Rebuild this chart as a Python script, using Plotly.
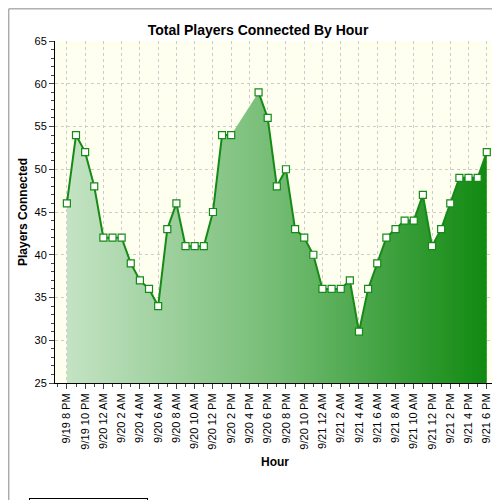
import plotly.graph_objects as go

hours = list(range(47))
players = [46, 54, 52, 48, 42, 42, 42, 39, 37, 36, 34, 43, 46, 41, 41, 41, 45, 54, 54, None, None, 59, 56, 48, 50,
           43, 42, 40, 36, 36, 36, 37, 31, 36, 39, 42, 43, 44, 44, 47, 41, 43, 46, 49, 49, 49, 52]
tick_labels = ["9/19 8 PM", "9/19 10 PM", "9/20 12 AM", "9/20 2 AM", "9/20 4 AM", "9/20 6 AM", "9/20 8 AM",
               "9/20 10 AM", "9/20 12 PM", "9/20 2 PM", "9/20 4 PM", "9/20 6 PM", "9/20 8 PM", "9/20 10 PM",
               "9/21 12 AM", "9/21 2 AM", "9/21 4 AM", "9/21 6 AM", "9/21 8 AM", "9/21 10 AM", "9/21 12 PM",
               "9/21 2 PM", "9/21 4 PM", "9/21 6 PM"]
tick_hours = list(range(0, 47, 2))

fx = [h for h, v in zip(hours, players) if v is not None]
fy = [v for v in players if v is not None]

fig = go.Figure()
fig.add_trace(go.Scatter(x=fx, y=fy, mode="lines", line=dict(width=0), fill="tozeroy",
                         fillgradient=dict(type="horizontal",
                                           colorscale=[[0, "#c4e3c4"], [0.5, "#74bc74"], [1, "#118a11"]]),
                         showlegend=False, hoverinfo="skip"))
fig.add_trace(go.Scatter(x=hours, y=players, mode="lines+markers", name="With Great Power",
                         line=dict(color="#168a16", width=2),
                         marker=dict(symbol="square", size=7, color="white",
                                     line=dict(color="#168a16", width=1.2)),
                         connectgaps=False))

fig.update_layout(
    width=500, height=500, margin=dict(l=47, r=13, t=33, b=125, autoexpand=False),
    paper_bgcolor="white", plot_bgcolor="#fffff0",
    title=dict(text="<b>Total Players Connected By Hour</b>", x=0.5, xanchor="center", y=0.965,
               font=dict(family="Liberation Sans", size=14, color="black")),
    font=dict(family="Liberation Sans", size=11, color="black"),
    legend=dict(x=-0.06, y=-0.335, xanchor="left", yanchor="top", orientation="h",
                bordercolor="black", borderwidth=1, font=dict(size=9)),
)
fig.update_xaxes(range=[-1.3, 46.9], tickvals=tick_hours, ticktext=tick_labels, tickangle=-90,
                 showline=True, linecolor="black", ticks="outside", ticklen=5, automargin=False,
                 showgrid=True, gridcolor="#cccccc", griddash="dot", zeroline=False,
                 title=dict(text="<b>Hour</b>", font=dict(size=12), standoff=8),
                 minor=dict(ticks="outside", ticklen=3, dtick=1, tick0=0, showgrid=False))
fig.update_yaxes(range=[25, 65], dtick=5, showline=True, linecolor="black", ticks="outside", ticklen=5,
                 automargin=False,
                 showgrid=True, gridcolor="#cccccc", griddash="dot", zeroline=False,
                 title=dict(text="<b>Players Connected</b>", font=dict(size=12), standoff=4),
                 minor=dict(ticks="outside", ticklen=3, dtick=1, showgrid=False))
fig.add_shape(type="rect", xref="paper", yref="paper", x0=-0.105, y0=-0.362, x1=1.027, y1=1.094,
              line=dict(color="#888888", width=1))
fig.write_html("out.html")
